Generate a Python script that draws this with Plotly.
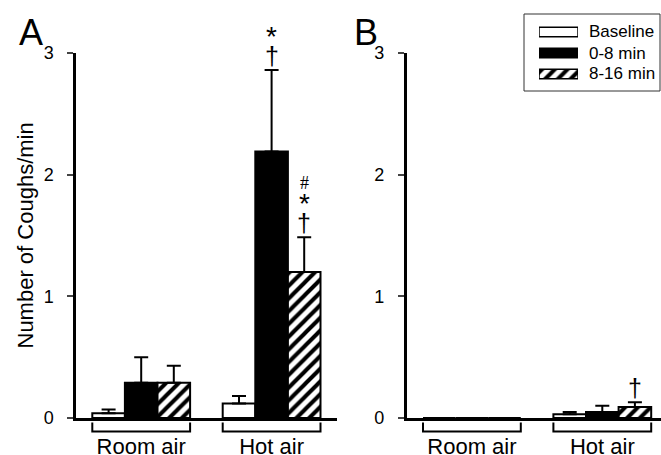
import plotly.graph_objects as go

W, H = 661, 455

groups = ["Room air", "Hot air"]
series = ["Baseline", "0-8 min", "8-16 min"]
y_ticks = [0, 1, 2, 3]

# Panel A values (coughs/min) and upward SEM
a_baseline = [0.04, 0.12]
a_0_8 = [0.29, 2.19]
a_8_16 = [0.29, 1.20]
a_baseline_err = [0.03, 0.06]
a_0_8_err = [0.21, 0.67]
a_8_16_err = [0.14, 0.285]

# Panel B values
b_baseline = [0.0, 0.03]
b_0_8 = [0.0, 0.05]
b_8_16 = [0.0, 0.09]
b_baseline_err = [0.0, 0.02]
b_0_8_err = [0.0, 0.05]
b_8_16_err = [0.0, 0.04]

# significance marks: (group index, series index) -> symbols bottom-to-top
a_marks = {(1, 1): ["†", "*"], (1, 2): ["†", "*", "#"]}
b_marks = {(1, 2): ["†"]}

styles = [
    dict(color="white", pattern=dict(shape="")),
    dict(color="black", pattern=dict(shape="")),
    dict(color="white", pattern=dict(shape="/", fgcolor="black", bgcolor="white", size=9, solidity=0.45)),
]

def px2x(p):
    return p / W

def px2y(p):
    return 1 - p / H

fig = go.Figure()

panels = [
    ("x", "y", [a_baseline, a_0_8, a_8_16], [a_baseline_err, a_0_8_err, a_8_16_err], a_marks),
    ("x2", "y2", [b_baseline, b_0_8, b_8_16], [b_baseline_err, b_0_8_err, b_8_16_err], b_marks),
]

annotations = []
shapes = []

for xa, ya, vals, errs, marks in panels:
    for s, name in enumerate(series):
        xs = [g * 4 + s + 1 for g in range(len(groups))]
        st = styles[s]
        fig.add_trace(go.Bar(
            x=xs, y=vals[s], width=1, name=name, xaxis=xa, yaxis=ya,
            marker=dict(color=st["color"], pattern=st["pattern"], line=dict(color="black", width=2)),
            error_y=dict(type="data", symmetric=False, array=errs[s], arrayminus=[0] * len(groups),
                         color="black", thickness=2, width=7),
            showlegend=False, hoverinfo="skip",
        ))
    for (g, s), syms in marks.items():
        top = vals[s][g] + errs[s][g]
        xpos = g * 4 + s + 1
        for k, sym in enumerate(syms):
            if sym == "†":
                fs, fam, shift = 25, "Liberation Sans", 14
            elif sym == "*":
                fs, fam, shift = 28, "Liberation Sans", 34
            else:
                fs, fam, shift = 18, "Liberation Serif", 54
            annotations.append(dict(
                x=xpos, y=top, xref=xa, yref=ya, text=sym, showarrow=False,
                yanchor="middle", xanchor="center", yshift=shift,
                font=dict(size=fs, family=fam, color="black"),
            ))
    # group brackets
    for g in range(len(groups)):
        x0 = g * 4 + 0.5
        x1 = g * 4 + 3.5
        shapes.append(dict(
            type="path", xref=xa, yref="paper",
            path=f"M {x0},{px2y(422.5)} L {x0},{px2y(431.5)} L {x1},{px2y(431.5)} L {x1},{px2y(422.5)}",
            line=dict(color="black", width=2),
        ))

# legend keys drawn as horizontal bars on a small hidden axis pair
leg_rows = [32, 53, 74]
for s, name in enumerate(series):
    st = styles[s]
    fig.add_trace(go.Bar(
        x=[1], y=[s], base=0, orientation="h", width=0.45, xaxis="x3", yaxis="y3",
        marker=dict(color=st["color"], pattern=st["pattern"], line=dict(color="black", width=1.5)),
        showlegend=False, hoverinfo="skip",
    ))
    annotations.append(dict(
        x=px2x(587), y=px2y(leg_rows[s]), xref="paper", yref="paper", text=name, showarrow=False,
        xanchor="left", yanchor="middle",
        font=dict(size=17, family="Liberation Sans", color="black"),
    ))

shapes.append(dict(type="rect", xref="paper", yref="paper",
                   x0=px2x(524), x1=px2x(660), y0=px2y(91), y1=px2y(14),
                   line=dict(color="#333333", width=1)))

# panel letters & y title
annotations.append(dict(x=px2x(31), y=px2y(33), xref="paper", yref="paper", text="A", showarrow=False,
                        xanchor="center", yanchor="middle",
                        font=dict(size=36, family="Liberation Sans", color="black")))
annotations.append(dict(x=px2x(366), y=px2y(33), xref="paper", yref="paper", text="B", showarrow=False,
                        xanchor="center", yanchor="middle",
                        font=dict(size=36, family="Liberation Sans", color="black")))
annotations.append(dict(x=px2x(25), y=px2y(235.5), xref="paper", yref="paper", text="Number of Coughs/min",
                        textangle=-90, showarrow=False, xanchor="center", yanchor="middle",
                        font=dict(size=22, family="Liberation Sans", color="black")))

ydom = [px2y(418), px2y(53)]
PXU = 32.6  # pixels per bar slot

def yax():
    return dict(domain=ydom, range=[0, 3], tickvals=y_ticks, ticks="outside", ticklen=6, tickwidth=2,
                showline=True, linewidth=2.5, linecolor="black", showgrid=False, zeroline=False,
                automargin=False, ticklabelstandoff=10,
                tickfont=dict(size=18, family="Liberation Sans", color="black"), fixedrange=True)

def xax(dom, rng, anchor):
    return dict(domain=dom, range=rng, anchor=anchor, tickvals=[g * 4 + 2 for g in range(len(groups))],
                ticktext=groups, ticks="", showline=True, linewidth=2.5, linecolor="black",
                showgrid=False, zeroline=False, ticklabelstandoff=7, automargin=False,
                tickfont=dict(size=22, family="Liberation Sans", color="black"), fixedrange=True)

fig.update_layout(
    template="none",
    width=W, height=H, margin=dict(l=0, r=0, t=0, b=0, autoexpand=False),
    paper_bgcolor="white", plot_bgcolor="white",
    barmode="overlay", showlegend=False,
    xaxis=xax([px2x(76), px2x(76 + 8 * PXU)], [0, 8], "y"),
    yaxis=yax() | dict(anchor="x"),
    xaxis2=xax([px2x(406.7), 1.0], [0, (661 - 406.7) / PXU], "y2"),
    yaxis2=yax() | dict(anchor="x2"),
    xaxis3=dict(domain=[px2x(539), px2x(578)], range=[0, 1], visible=False, anchor="y3", automargin=False, fixedrange=True),
    yaxis3=dict(domain=[px2y(84.5), px2y(21.5)], range=[2.5, -0.5], visible=False, anchor="x3", automargin=False, fixedrange=True),
    annotations=annotations, shapes=shapes,
)

fig.write_html(
    "out.html",
    config=dict(displayModeBar=False),
    post_script="document.body.style.margin='0';document.body.style.overflow='hidden';",
)
